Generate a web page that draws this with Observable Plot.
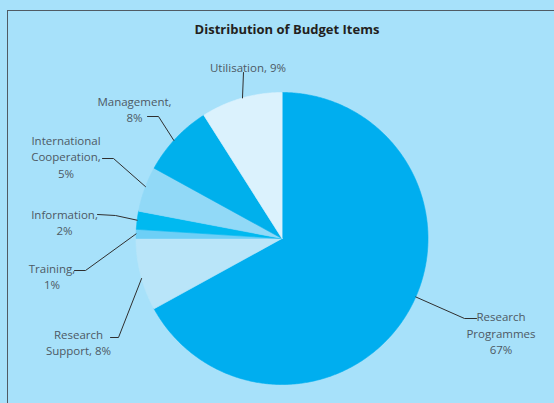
<!DOCTYPE html>
<html>
<head>
<meta charset="utf-8">
<script src="https://cdn.jsdelivr.net/npm/d3@7"></script>
<script src="https://cdn.jsdelivr.net/npm/@observablehq/plot@0.6"></script>
<style>
  html, body { margin: 0; padding: 0; background: #a7e1fa; }
  #wrap { position: relative; width: 554px; height: 403px; overflow: hidden; background: #a7e1fa; font-family: "Open Sans", sans-serif; }
  #frame { position: absolute; left: 7px; top: 10px; right: -20px; bottom: -20px; border-left: 1.5px solid #505b64; border-top: 1.5px solid #505b64; }
  #title { position: absolute; left: 0; width: 574px; top: 20px; text-align: center; font-weight: bold; font-size: 13px; color: #231f20; }
  #chart { position: absolute; left: 0; top: 0; }
  #chart svg { background: transparent; }
</style>
</head>
<body>
<div id="wrap">
  <div id="frame"></div>
  <div id="title">Distribution of Budget Items</div>
  <div id="chart"></div>
</div>
<script>
// ---- data ----
const categories = ["Research Programmes", "Research Support", "Training", "Information", "International Cooperation", "Management", "Utilisation"];
const shares = [67, 8, 1, 2, 5, 8, 9];
const labelLines = [
  ["Research", "Programmes", "67%"],
  ["Research", "Support, 8%"],
  ["Training,", "1%"],
  ["Information,", "2%"],
  ["International", "Cooperation,", "5%"],
  ["Management,", "8%"],
  ["Utilisation, 9%"]
];
const sliceColors = ["#00aeef", "#b9e5f9", "#6dcff6", "#00b9f0", "#91d9f7", "#00b0ec", "#dbf2fd"];

// ---- layout (pixels) ----
const CX = 281.5, CY = 238, R = 146;
const labelLayout = [
  {x: 500.5, y: 332,   shift: -7,   elbow: [[464, 318], [476, 318]]},
  {x: 78,    y: 341,   shift: -1.5, elbow: [[118, 337], [110, 337]]},
  {x: 51.5,  y: 275.5, shift: 0,    elbow: [[85, 270], [74, 270]]},
  {x: 64,    y: 221,   shift: 0,    elbow: [[115, 215], [97, 214]]},
  {x: 65.5,  y: 155.5, shift: 1,    elbow: [[113, 158], [102, 158]]},
  {x: 134,   y: 108,   shift: -1,   elbow: [[158, 116], [147, 116]]},
  {x: 247.5, y: 66,    shift: 0.5,  elbow: [[243, 72]]}
];
const toU = px => (px - CX) / R;
const toV = py => (CY - py) / R;

// ---- build geometry from data ----
const arcs = d3.pie().sort(null).value(d => d)(shares);
const slicePts = [];
arcs.forEach((a, i) => {
  slicePts.push({cat: categories[i], u: 0, v: 0});
  const n = Math.max(2, Math.ceil((a.endAngle - a.startAngle) / (Math.PI / 360)));
  for (let k = 0; k <= n; k++) {
    const t = a.startAngle + (a.endAngle - a.startAngle) * k / n;
    slicePts.push({cat: categories[i], u: Math.sin(t), v: Math.cos(t)});
  }
});

const leaderPts = [];
const labels = [];
arcs.forEach((a, i) => {
  const L = labelLayout[i];
  const mid = (a.startAngle + a.endAngle) / 2 + L.shift * Math.PI / 180;
  leaderPts.push({cat: categories[i], u: Math.sin(mid), v: Math.cos(mid)});
  L.elbow.forEach(([px, py]) => leaderPts.push({cat: categories[i], u: toU(px), v: toV(py)}));
  labels.push({cat: categories[i], u: toU(L.x), v: toV(L.y), text: labelLines[i].join("\n")});
});

const chart = Plot.plot({
  width: 554,
  height: 403,
  margin: 0,
  x: {domain: [-1, 1], range: [CX - R, CX + R], axis: null},
  y: {domain: [-1, 1], range: [CY + R, CY - R], axis: null},
  color: {domain: categories, range: sliceColors},
  style: {background: "transparent", overflow: "visible"},
  marks: [
    Plot.line(slicePts, {x: "u", y: "v", z: "cat", fill: "cat", stroke: "cat", strokeWidth: 0.6, curve: "linear-closed"}),
    Plot.line(leaderPts, {x: "u", y: "v", z: "cat", stroke: "#2f2f2f", strokeWidth: 1}),
    Plot.text(labels, {x: "u", y: "v", text: "text", fontSize: 11.5, fill: "#4d5964", textAnchor: "middle", lineHeight: 1.42, fontFamily: "Open Sans"})
  ]
});
document.getElementById("chart").appendChild(chart);
</script>
</body>
</html>
